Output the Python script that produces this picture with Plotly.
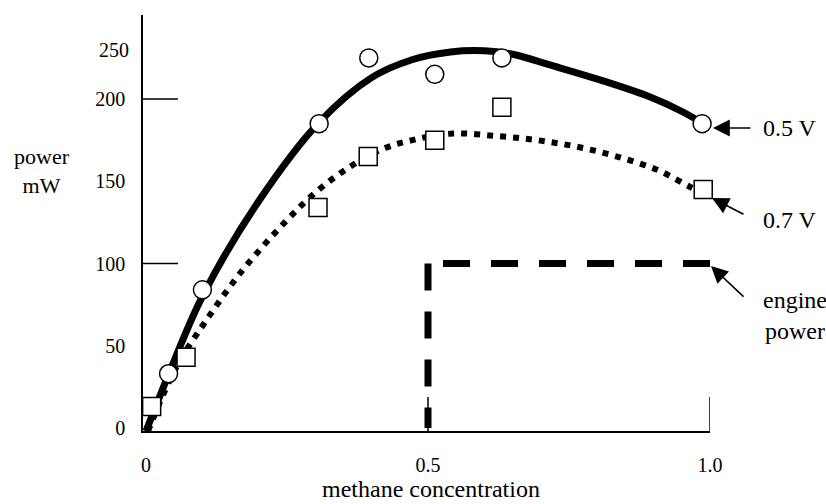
import plotly.graph_objects as go

# ---- data ----
conc_05 = [0.04, 0.10, 0.307, 0.395, 0.512, 0.631, 0.986]
power_05 = [33, 84, 185, 225, 215, 225, 185]
conc_07 = [0.01, 0.071, 0.305, 0.394, 0.512, 0.631, 0.988]
power_07 = [13, 43, 134, 165, 175, 195, 145]

fit05_x = [0.0, 0.04, 0.10, 0.20, 0.307, 0.40, 0.473, 0.54, 0.60, 0.65, 0.716, 0.805, 0.894, 0.952, 0.986]
fit05_y = [-2, 32.4, 80, 138, 185.8, 213, 224, 228.6, 229.3, 227.2, 220.7, 211.6, 201.2, 192.1, 185.4]

fit07_x = [0.0035, 0.034, 0.060, 0.096, 0.122, 0.149, 0.181, 0.246, 0.300, 0.358, 0.415,
           0.472, 0.544, 0.622, 0.693, 0.764, 0.835, 0.906, 0.965, 0.980]
fit07_y = [-2, 23, 41, 60, 73, 86, 100, 125, 143, 158, 169,
           175, 179, 177.5, 175, 171, 165, 157, 146.5, 144]

engine_x = [0.5, 0.5, None, 1.0, 0.5]
engine_y = [100, 0, None, 100, 100]

x_tickvals = [0, 0.5, 1.0]
x_ticktext = ["0", "0.5", "1.0"]
x_tickmarks = [0.5, 1.0]
y_tickvals = [0, 50, 100, 150, 200]
y_ticktext = ["0", "50", "100", "150", "200"]
y_tickmarks = [100, 200]

# ---- pixel helpers for layout placement ----
L, R, T, B = 143, 710, 15, 431

def X(px):
    return (px - 146) / 564.0

def Y(py):
    return (428 - py) / 1.645

def PX(px):
    return (px - L) / (R - L)

def PY(py):
    return (B - py) / (B - T)

xr = [X(L), X(R)]
yr = [Y(B), Y(T)]

FONT = "Liberation Serif, Times New Roman, serif"

fig = go.Figure()
fig.add_trace(go.Scatter(x=fit05_x, y=fit05_y, mode="lines", line=dict(color="black", width=7, shape="spline"),
                         showlegend=False, hoverinfo="skip"))
fig.add_trace(go.Scatter(x=fit07_x, y=fit07_y, mode="lines",
                         line=dict(color="black", width=6, shape="spline", dash="6px,7px"),
                         showlegend=False, hoverinfo="skip"))
fig.add_trace(go.Scatter(x=engine_x, y=engine_y, mode="lines",
                         line=dict(color="black", width=7, dash="27px,21px"),
                         connectgaps=False, showlegend=False, hoverinfo="skip"))
fig.add_trace(go.Scatter(x=conc_05, y=power_05, mode="markers",
                         marker=dict(symbol="circle", size=18, color="white", line=dict(color="black", width=1.5)),
                         cliponaxis=False, showlegend=False))
fig.add_trace(go.Scatter(x=conc_07, y=power_07, mode="markers",
                         marker=dict(symbol="square", size=18, color="white", line=dict(color="black", width=1.5)),
                         cliponaxis=False, showlegend=False))

shapes = []
for v in x_tickmarks:
    shapes.append(dict(type="line", xref="x", yref="y", x0=v, x1=v, ysizemode="pixel", yanchor=yr[0],
                       y0=0, y1=34, line=dict(color="black", width=1.5)))
for v in y_tickmarks:
    shapes.append(dict(type="line", xref="x", yref="y", y0=v, y1=v, xsizemode="pixel", xanchor=xr[0],
                       x0=0, x1=35, line=dict(color="black", width=1.5)))

annotations = []
def txt(text, px, py, xanchor="center", size=23, align="center"):
    annotations.append(dict(text=text, x=PX(px), y=PY(py), xref="paper", yref="paper", showarrow=False,
                            xanchor=xanchor, yanchor="middle", align=align,
                            font=dict(family=FONT, size=size, color="black")))

def arrow(hx, hy, tx, ty):
    annotations.append(dict(text="", x=PX(hx), y=PY(hy), ax=tx - hx, ay=ty - hy, xref="paper", yref="paper",
                            showarrow=True, arrowhead=2, arrowsize=2.1,
                            arrowwidth=1.6, arrowcolor="black", standoff=0))

txt("power<br>mW", 42, 171, size=22)
txt("methane concentration", 431, 489, size=24)
txt("250", 131, 50, xanchor="right", size=20)
txt("0.5 V", 761, 128, xanchor="left", size=24)
txt("0.7 V", 761, 220, xanchor="left", size=24)
txt("engine<br>power", 761, 315, xanchor="left", size=24)
arrow(713, 128, 752, 128)
arrow(712, 198, 745, 215)
arrow(711, 266, 745, 298)

fig.update_layout(
    width=826, height=504, autosize=False,
    margin=dict(l=L, r=826 - R, t=T, b=504 - B, pad=0),
    plot_bgcolor="white", paper_bgcolor="white",
    shapes=shapes, annotations=annotations,
    xaxis=dict(range=xr, showgrid=False, zeroline=False, showline=True, linecolor="black", linewidth=1.5,
               tickmode="array", tickvals=x_tickvals, ticktext=x_ticktext, ticks="",
               ticklabelstandoff=15, tickfont=dict(family=FONT, size=20, color="black")),
    yaxis=dict(range=yr, showgrid=False, zeroline=False, showline=True, linecolor="black", linewidth=1.5,
               tickmode="array", tickvals=y_tickvals, ticktext=y_ticktext, ticks="",
               ticklabelstandoff=12, tickfont=dict(family=FONT, size=20, color="black")),
)

fig.write_html("out.html")
